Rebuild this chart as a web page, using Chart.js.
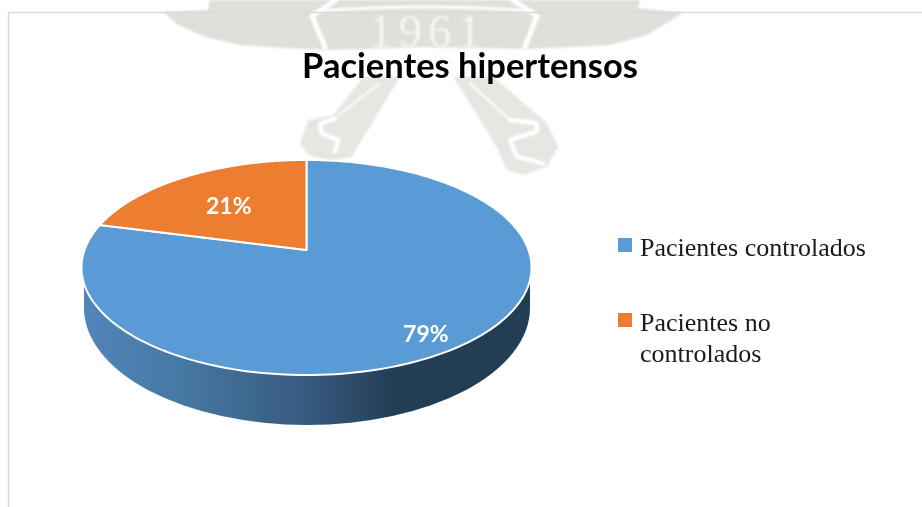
<!DOCTYPE html>
<html><head><meta charset="utf-8">
<style>html,body{margin:0;padding:0;background:#fff}#w{position:relative;width:922px;height:507px}</style>
<script src="https://cdn.jsdelivr.net/npm/chart.js@4/dist/chart.umd.min.js"></script>
</head><body><div id="w"><canvas id="c" width="922" height="507"></canvas></div>
<script>
const TITLE = "Pacientes hipertensos";
const categories = ["Pacientes controlados", "Pacientes no controlados"];
const legendLines = [["Pacientes controlados"], ["Pacientes no", "controlados"]];
const values = [79, 21];
const colors = ["#5B9BD5", "#ED7D31"];

const G = {shiftX:-163.5, rx:222, ry:64, persp:-0.1628};

function project(el, theta, rho){
  const u = Math.cos(theta)*rho, v = Math.sin(theta)*rho, d = 1 + G.persp*v;
  return {x: el.x + G.shiftX + G.rx*u/d, y: (el.y + G.ry*v)/d};
}
function watermark(ctx){
  ctx.save();
  ctx.filter = "blur(0.8px)";
  const poly = (pts,col) => {ctx.fillStyle=col;ctx.beginPath();pts.forEach((p,i)=>i?ctx.lineTo(p[0],p[1]):ctx.moveTo(p[0],p[1]));ctx.closePath();ctx.fill();};
  const line = (pts,w) => {ctx.strokeStyle="#fff";ctx.lineWidth=w;ctx.lineCap="round";ctx.lineJoin="round";ctx.beginPath();pts.forEach((p,i)=>i?ctx.lineTo(p[0],p[1]):ctx.moveTo(p[0],p[1]));ctx.stroke();};
  const z = pts => pts.map(p=>[280+p[0]/3,p[1]/3]);
  const seal="#dde1da", wrench="#e4e7e2";
  // seal band
  poly([[210,0],[208,10],[163,12],[178,25],[205,37],[240,45],[285,48],[330,50],[425,47],[527,49],[575,47],[610,45],[647,35],[683,13],[638,8],[640,0]],seal);
  // wrenches
  poly(z([[250,230],[360,230],[215,470],[150,482],[85,465],[60,430],[85,360],[160,345]]),wrench);
  poly(z([[520,230],[640,230],[800,370],[835,440],[800,500],[730,525],[680,510],[650,440]]),wrench);
  line(z([[165,355],[120,372],[125,400],[175,420],[165,455]]),4.5);
  line(z([[690,360],[770,370],[770,395],[690,420],[710,470],[790,490]]),4.5);
  line(z([[300,250],[175,345]]),2);
  line(z([[570,250],[690,360]]),2);
  // ribbon outline
  line([[325,47],[312,16],[336,0]],5);
  line([[525,47],[537,16],[513,0]],5);
  ctx.strokeStyle="#fff";ctx.lineWidth=3;
  ctx.beginPath();ctx.moveTo(318,11);ctx.quadraticCurveTo(425,3,531,11);ctx.stroke();
  // year
  ctx.fillStyle = "#f4f5f3";
  ctx.font = "47px 'Liberation Serif'";
  ctx.letterSpacing = "6px";
  ctx.textAlign = "center"; ctx.textBaseline = "alphabetic";
  ctx.fillText("1961", 428, 47);
  ctx.letterSpacing = "0px";
  ctx.filter = "none";
  // frame
  ctx.strokeStyle = "#d9d9d9"; ctx.lineWidth = 1.5; ctx.lineCap="butt"; ctx.lineJoin="miter";
  ctx.beginPath(); ctx.moveTo(922,12.5); ctx.lineTo(8.5,12.5); ctx.lineTo(8.5,507); ctx.stroke();
  ctx.restore();
}
function drawPie(chart){
  const ctx = chart.ctx, arcs = chart.getDatasetMeta(0).data, el0 = arcs[0];
  const cx = el0.x + G.shiftX + 0.5, rimY = 282, rimDx = 223, baseY = 308, baseRx = 223, baseRy = 117;
  ctx.save();
  // side wall
  const g = ctx.createLinearGradient(cx-225,0,cx+225,0);
  g.addColorStop(0,"#5285B8"); g.addColorStop(0.2,"#487AA7"); g.addColorStop(0.5,"#365A7E");
  g.addColorStop(0.7,"#233D55"); g.addColorStop(1,"#233D55");
  ctx.fillStyle = g;
  ctx.beginPath();
  ctx.moveTo(cx-rimDx,rimY);
  ctx.lineTo(cx-baseRx,baseY);
  ctx.ellipse(cx,baseY,baseRx,baseRy,0,Math.PI,0,true);
  ctx.lineTo(cx+rimDx,rimY);
  ctx.closePath(); ctx.fill();
  // top faces
  arcs.forEach((el,i)=>{
    ctx.beginPath();
    ctx.moveTo(el.x+G.shiftX,el.y);
    const n = 180;
    for(let k=0;k<=n;k++){
      const p = project(el,el.startAngle + (el.endAngle-el.startAngle)*k/n,1);
      ctx.lineTo(p.x,p.y);
    }
    ctx.closePath();
    ctx.fillStyle = colors[i]; ctx.fill();
    ctx.strokeStyle = "#fff"; ctx.lineWidth = 2; ctx.lineJoin="round"; ctx.stroke();
  });
  // value labels
  const rho = [0.8,0.6], dy = [11,3];
  ctx.fillStyle="#fff"; ctx.font="bold 23px Lato"; ctx.textAlign="center"; ctx.textBaseline="middle";
  arcs.forEach((el,i)=>{
    const p = project(el,(el.startAngle+el.endAngle)/2,rho[i]);
    ctx.fillText(values[i]+"%",p.x-2,p.y+dy[i]);
  });
  // legend
  ctx.font="26px 'Liberation Serif'"; ctx.textAlign="left"; ctx.textBaseline="alphabetic";
  const top=[238,313];
  legendLines.forEach((lines,i)=>{
    ctx.fillStyle=colors[i]; ctx.fillRect(618,top[i],14,14);
    ctx.fillStyle="#1a1a1a";
    lines.forEach((l,j)=>ctx.fillText(l,640,top[i]+18+j*31));
  });
  ctx.restore();
}
new Chart(document.getElementById("c"),{
  type:"pie",
  data:{labels:categories,datasets:[{data:values,backgroundColor:colors,borderWidth:0}]},
  options:{
    responsive:false,animation:false,events:[],
    layout:{padding:{left:18,right:0,top:0,bottom:97}},
    plugins:{
      legend:{display:false},tooltip:{enabled:false},
      title:{display:true,text:TITLE,color:"#000",font:{family:"Lato",size:34.5,weight:"bold"},padding:{top:46.3,bottom:2.3}}
    }
  },
  plugins:[{id:"pie3d",
    beforeDraw(chart){watermark(chart.ctx);},
    beforeDatasetsDraw(chart){drawPie(chart);return false;}
  }]
});
</script></body></html>
